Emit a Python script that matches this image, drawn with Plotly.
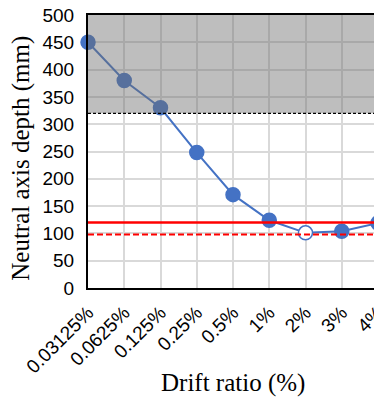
import plotly.graph_objects as go

drift = ['0.03125%', '0.0625%', '0.125%', '0.25%', '0.5%', '1%', '2%', '3%', '4%']
depth = [450, 380, 330, 248, 171, 124, 101, 104, 119]
open_pt = '2%'              # hollow marker
shade_from, shade_to = 320, 500
red_solid = 120
red_dash = 98
yticks = list(range(0, 501, 50))

blue = '#4472c4'
fills = ['white' if d == open_pt else blue for d in drift]
xs = list(range(len(drift)))

fig = go.Figure()

fig.add_trace(go.Scatter(
    x=xs, y=depth, mode='lines+markers', cliponaxis=False,
    line=dict(color=blue, width=2),
    marker=dict(size=14, color=fills, line=dict(color=blue, width=1.5)),
    showlegend=False))

# gray zone above the dashed limit (drawn over the data, semi-transparent)
fig.add_hrect(y0=shade_from, y1=shade_to, fillcolor='rgba(110,110,110,0.45)',
              line_width=0, layer='above')
fig.add_hline(y=shade_from, line=dict(color='black', width=1.3, dash='3px,2px'))
fig.add_hline(y=red_solid, line=dict(color='#ff0000', width=2.5))
fig.add_hline(y=red_dash, line=dict(color='#ff0000', width=2, dash='6px,3px'))

serif = 'Liberation Serif, Times New Roman'
fig.add_annotation(text='Drift ratio (%)', xref='paper', yref='paper',
                   x=0.5, y=-0.348, yanchor='middle', showarrow=False,
                   font=dict(family=serif, size=25))
fig.add_annotation(text='Neutral axis depth (mm)', xref='paper', yref='paper',
                   x=-0.232, y=0.476, textangle=-90, xanchor='center', showarrow=False,
                   font=dict(family=serif, size=25))

# page body adds ~8px offset, so the figure is 8px smaller in each direction
fig.update_layout(
    width=374, height=390,
    margin=dict(l=80, r=4, t=7, b=110),
    plot_bgcolor='white', paper_bgcolor='white',
    font=dict(family='Liberation Sans, Arial', size=19, color='black'),
)
fig.update_xaxes(
    range=[0, len(drift) - 1], tickmode='array', tickvals=xs, ticktext=drift,
    tickangle=-45, showgrid=True, gridcolor='#d9d9d9', gridwidth=1.5,
    showline=True, linecolor='black', linewidth=2, mirror=True,
    ticks='', ticklabelstandoff=4, ticklabeloverflow='allow',
    zeroline=False, automargin=False)
fig.update_yaxes(
    range=[0, 500], tickvals=yticks,
    showgrid=True, gridcolor='#d9d9d9', gridwidth=1.5,
    showline=True, linecolor='black', linewidth=2, mirror=True,
    ticks='', ticklabelstandoff=8, ticklabeloverflow='allow',
    zeroline=False, automargin=False)

fig.write_html('out.html')
